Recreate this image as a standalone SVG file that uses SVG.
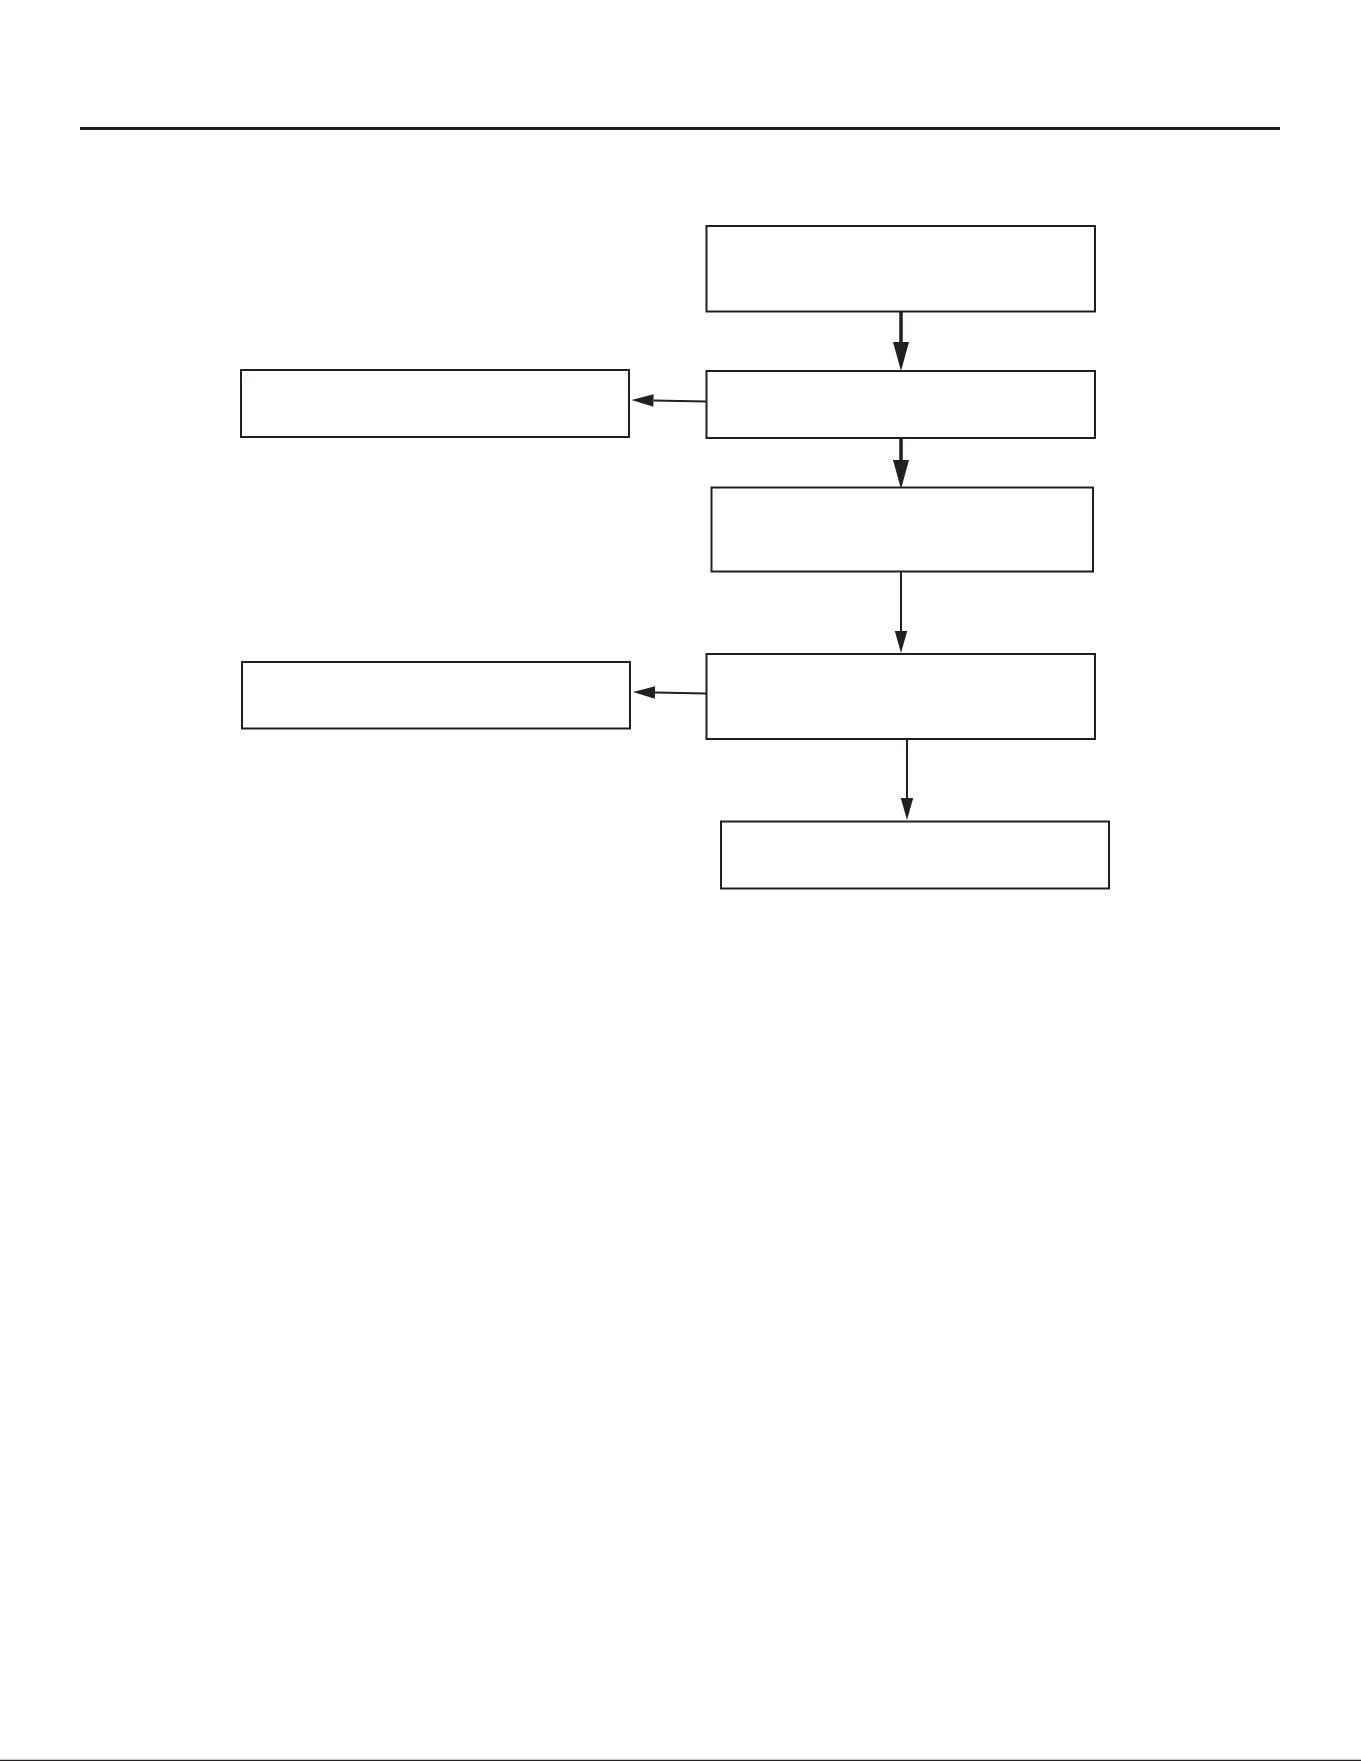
<svg xmlns="http://www.w3.org/2000/svg" width="1361" height="1761" viewBox="0 0 1361 1761">
<style>
.box{fill:#fff;stroke:#231f20;stroke-width:2}
.thick{stroke:#231f20;stroke-width:3.5;fill:none}
.thin{stroke:#231f20;stroke-width:2;fill:none}
.rule{stroke:#231f20;fill:none}
</style>
<defs>
<marker id="headThick" markerUnits="userSpaceOnUse" markerWidth="30" markerHeight="18" viewBox="0 -9 30 18" refX="0" refY="0" orient="auto" overflow="visible">
<path d="M0,-8 L29,0 L0,8 z" fill="#231f20"/>
</marker>
<marker id="headThin" markerUnits="userSpaceOnUse" markerWidth="23" markerHeight="14" viewBox="0 -7 23 14" refX="0" refY="0" orient="auto" overflow="visible">
<path d="M0,-6.2 L22,0 L0,6.2 z" fill="#231f20"/>
</marker>
</defs>
<rect width="1361" height="1761" fill="#fff"/>
<line class="rule" x1="80" y1="128.5" x2="1280" y2="128.5" stroke-width="3"/>
<line class="rule" x1="0" y1="1760.5" x2="1361" y2="1760.5" stroke-width="1.5"/>
<g id="connectors">
<path class="thick" d="M901,312 L901,342" marker-end="url(#headThick)"/>
<path class="thick" d="M901,438 L901,460" marker-end="url(#headThick)"/>
<path class="thin" d="M901,572 L901,631" marker-end="url(#headThin)"/>
<path class="thin" d="M907,739 L907,798" marker-end="url(#headThin)"/>
<path class="thin" d="M706,401.5 L653.5,400.5" marker-end="url(#headThin)"/>
<path class="thin" d="M706,693.5 L655,692.5" marker-end="url(#headThin)"/>
</g>
<g id="node1"><rect class="box" x="706.5" y="226" width="388.5" height="85.5"/></g>
<g id="node2"><rect class="box" x="706.5" y="371" width="388.5" height="67"/></g>
<g id="node3"><rect class="box" x="711.5" y="487.5" width="381.5" height="84"/></g>
<g id="node4"><rect class="box" x="706.5" y="654" width="388.5" height="85"/></g>
<g id="node5"><rect class="box" x="721" y="821.5" width="388" height="67"/></g>
<g id="nodeA"><rect class="box" x="241" y="370" width="388" height="67"/></g>
<g id="nodeB"><rect class="box" x="242" y="662" width="388" height="66.5"/></g>
</svg>
